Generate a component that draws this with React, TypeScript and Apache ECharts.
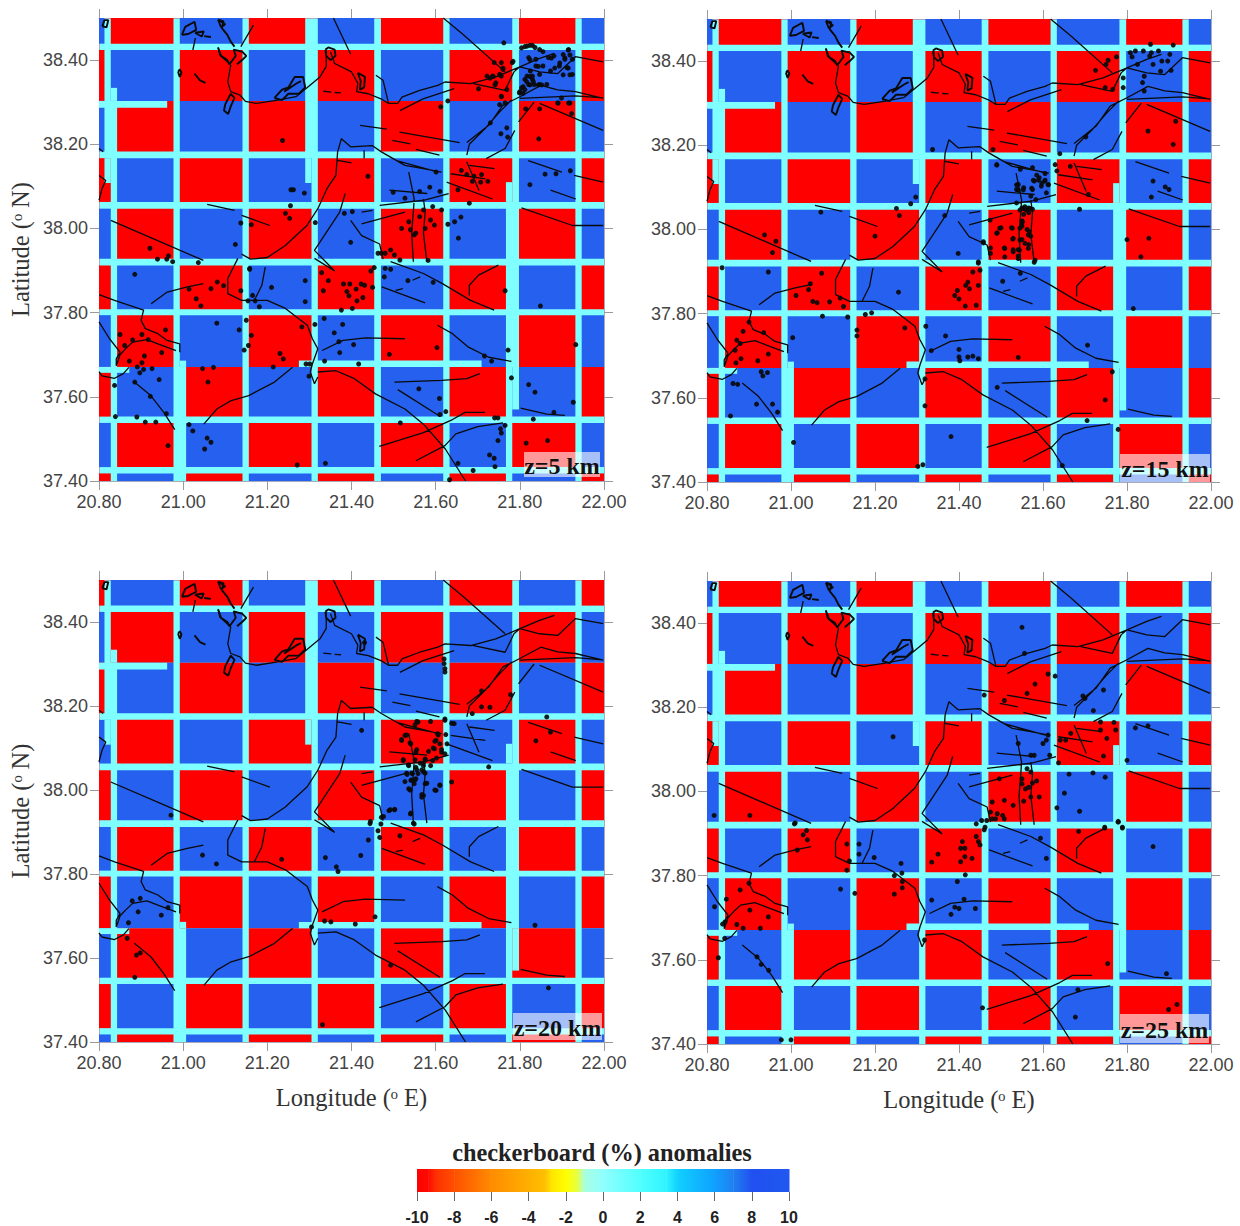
import React, { useEffect, useRef } from "react";
import * as echarts from "echarts";

const RED = "#ff0000";
const BLUE = "#2561ee";
const CYAN = "#7fffff";

const lonTicks = [20.8, 21.0, 21.2, 21.4, 21.6, 21.8, 22.0];
const latTicks = [37.4, 37.6, 37.8, 38.0, 38.2, 38.4];
const panelLabels = ["z=5 km", "z=15 km", "z=20 km", "z=25 km"];
const panelPolarity = [0, 0, 1, 0];

// Row edges [north, south]
const rowEdges = [
  [38.5, 38.439], [38.424, 38.303], [38.303, 38.183], [38.167, 38.063], [38.047, 37.928],
  [37.912, 37.808], [37.794, 37.671], [37.671, 37.553], [37.538, 37.433], [37.418, 37.4],
];
// Column edges [west, east] for each row
const colEdgesByRow = [
  [[20.8, 20.813], [20.828, 20.977], [20.992, 21.141], [21.156, 21.29], [21.32, 21.454], [21.47, 21.618], [21.633, 21.782], [21.798, 21.932], [21.947, 22]],
  [[20.8, 20.813], [20.828, 20.977], [20.992, 21.141], [21.156, 21.29], [21.32, 21.454], [21.47, 21.618], [21.633, 21.782], [21.798, 21.932], [21.947, 22]],
  [[20.8, 20.813], [20.843, 20.977], [20.992, 21.141], [21.156, 21.29], [21.32, 21.454], [21.47, 21.618], [21.633, 21.782], [21.798, 21.932], [21.947, 22]],
  [[20.8, 20.828], [20.843, 20.977], [20.992, 21.141], [21.156, 21.305], [21.32, 21.454], [21.47, 21.618], [21.633, 21.782], [21.798, 21.932], [21.947, 22]],
  [[20.8, 20.828], [20.843, 20.977], [20.992, 21.141], [21.156, 21.305], [21.32, 21.454], [21.47, 21.618], [21.633, 21.767], [21.798, 21.932], [21.947, 22]],
  [[20.8, 20.828], [20.843, 20.977], [20.992, 21.141], [21.156, 21.305], [21.32, 21.454], [21.47, 21.618], [21.633, 21.767], [21.798, 21.932], [21.947, 22]],
  [[20.8, 20.828], [20.843, 20.977], [20.992, 21.141], [21.156, 21.305], [21.32, 21.454], [21.47, 21.618], [21.633, 21.767], [21.798, 21.932], [21.947, 22]],
  [[20.8, 20.828], [20.843, 20.977], [21.007, 21.141], [21.156, 21.305], [21.32, 21.454], [21.47, 21.618], [21.633, 21.767], [21.782, 21.932], [21.947, 22]],
  [[20.8, 20.828], [20.843, 20.977], [21.007, 21.141], [21.156, 21.305], [21.32, 21.454], [21.47, 21.618], [21.633, 21.767], [21.782, 21.932], [21.947, 22]],
  [[20.8, 20.828], [20.843, 20.977], [21.007, 21.141], [21.156, 21.305], [21.32, 21.454], [21.47, 21.618], [21.633, 21.767], [21.782, 21.932], [21.947, 22]],
];
// Zero-anomaly patches [west, east, north, south]
const zeroPatches = [
  [20.828, 20.843, 38.334, 38.303],
  [20.8, 20.962, 38.303, 38.287],
  [21.275, 21.709, 37.686, 37.671],
  [20.992, 21.007, 37.686, 37.671],
  [20.8, 20.872, 37.671, 37.657],
  [21.29, 21.305, 38.167, 38.108],
  [21.767, 21.782, 38.11, 38.063],
  [20.813, 20.828, 38.167, 38.108],
  [21.782, 21.798, 37.671, 37.57],
];

// Coastlines, islands and faults
const coastNorth = [[21.083,38.43],[21.087,38.412],[21.113,38.388],[21.106,38.348],[21.113,38.325],[21.135,38.317],[21.148,38.302],[21.174,38.297],[21.225,38.305],[21.268,38.313],[21.295,38.335],[21.325,38.36],[21.34,38.385],[21.34,38.425]];
const coastNorthEast = [[21.35,38.42],[21.36,38.392],[21.4,38.372],[21.415,38.345],[21.412,38.325],[21.44,38.32],[21.47,38.308],[21.488,38.297],[21.51,38.297],[21.52,38.312],[21.562,38.328],[21.605,38.34],[21.622,38.348],[21.683,38.344],[21.743,38.36],[21.8,38.384],[21.847,38.404],[21.882,38.416]];
const coastMain = [[21.139,37.939],[21.16,37.927],[21.2,37.931],[21.242,37.959],[21.294,38.007],[21.32,38.047],[21.342,38.095],[21.363,38.126],[21.367,38.182],[21.376,38.213],[21.398,38.194],[21.449,38.197],[21.471,38.182],[21.527,38.15],[21.571,38.142],[21.614,38.134]];
const coastWest = [[20.8,37.843],[20.837,37.829],[20.906,37.806],[20.9,37.782],[20.91,37.762],[20.94,37.75],[20.962,37.734],[20.992,37.726],[20.992,37.706]];
const coastBay = [[20.8,37.778],[20.825,37.738],[20.85,37.706],[20.841,37.69],[20.841,37.674],[20.85,37.7],[20.863,37.714],[20.88,37.73],[20.914,37.736],[20.94,37.726],[20.983,37.71]];
const coastCape = [[20.8,37.66],[20.807,37.65],[20.837,37.644],[20.858,37.655],[20.871,37.67]];
const coastCentral = [[21.13,37.929],[21.106,37.881],[21.106,37.845],[21.139,37.829],[21.2,37.829],[21.243,37.81],[21.295,37.77],[21.307,37.738],[21.32,37.714],[21.307,37.678],[21.302,37.659],[21.312,37.631],[21.32,37.647]];
const islandA = [[20.997,38.46],[21.005,38.479],[21.027,38.491],[21.031,38.472],[21.012,38.462],[20.997,38.46]];
const islandB = [[21.028,38.465],[21.049,38.468],[21.044,38.456],[21.028,38.465]];
const islandC = [[21.05,38.457],[21.066,38.455]];
const islandD = [[21.083,38.496],[21.096,38.492],[21.092,38.476],[21.105,38.46],[21.113,38.444],[21.122,38.432]];
const islandE = [[21.083,38.496],[21.09,38.478],[21.1,38.485],[21.083,38.496]];
const islandF = [[20.988,38.372],[20.992,38.378],[20.996,38.37],[20.992,38.36],[20.988,38.372]];
const islandG = [[21.027,38.368],[21.04,38.352],[21.053,38.346]];
const islandH = [[21.083,38.43],[21.09,38.41],[21.105,38.4],[21.11,38.39],[21.125,38.41],[21.12,38.425],[21.14,38.42],[21.15,38.41],[21.14,38.4],[21.128,38.39]];
const islandI = [[21.1,38.295],[21.097,38.28],[21.107,38.272],[21.113,38.29],[21.122,38.31],[21.113,38.32],[21.1,38.295]];
const islandJ = [[21.217,38.31],[21.235,38.33],[21.25,38.335],[21.265,38.36],[21.285,38.36],[21.29,38.335],[21.275,38.32],[21.25,38.32],[21.235,38.305],[21.217,38.31]];
const islandK = [[21.24,38.325],[21.27,38.345],[21.28,38.35]];
const islandL = [[21.338,38.425],[21.345,38.43],[21.36,38.425],[21.362,38.41],[21.35,38.4],[21.34,38.41],[21.338,38.425]];
const islandM = [[21.415,38.37],[21.422,38.35],[21.42,38.33],[21.43,38.335],[21.432,38.36],[21.415,38.37]];
const islandN = [[20.808,38.48],[20.813,38.495],[20.822,38.495],[20.818,38.478],[20.808,38.48]];
const faults = [
  [[21.458,38.364],[21.475,38.352],[21.488,38.297]],
  [[21.515,38.28],[21.57,38.308],[21.644,38.332]],
  [[21.69,38.344],[21.765,38.328],[21.786,38.372],[21.8,38.384]],
  [[21.8,38.384],[21.847,38.372],[21.89,38.368],[21.932,38.408],[21.998,38.396]],
  [[21.674,38.204],[21.726,38.245],[21.76,38.293],[21.8,38.313],[21.85,38.34],[21.89,38.329],[21.932,38.325],[21.998,38.309]],
  [[21.797,38.253],[21.834,38.3]],
  [[21.847,38.297],[21.998,38.233]],
  [[21.8,38.309],[21.932,38.315],[21.998,38.31]],
  [[21.674,38.174],[21.68,38.2],[21.717,38.237],[21.752,38.277],[21.78,38.305]],
  [[21.72,38.166],[21.765,38.19],[21.788,38.233]],
  [[21.618,38.5],[21.666,38.46],[21.765,38.372]],
  [[21.357,38.5],[21.398,38.414]],
  [[21.167,38.483],[21.137,38.432]],
  [[20.828,38.019],[20.949,37.967],[21.048,37.924]],
  [[21.057,38.057],[21.122,38.043]],
  [[21.139,38.031],[21.206,38.007]],
  [[21.43,38.186],[21.43,38.166]],
  [[21.367,38.162],[21.4,38.156]],
  [[21.385,38.083],[21.372,38.039],[21.312,37.948],[21.36,37.899]],
  [[21.398,38.019],[21.424,37.983],[21.467,37.963],[21.475,37.927]],
  [[21.424,38.011],[21.527,38.039]],
  [[21.467,38.055],[21.571,38.067],[21.631,38.083]],
  [[21.49,38.091],[21.58,38.083]],
  [[21.514,38.229],[21.657,38.204]],
  [[21.497,38.209],[21.54,38.201]],
  [[21.553,38.188],[21.609,38.174]],
  [[21.42,38.245],[21.484,38.236]],
  [[21.507,38.161],[21.606,38.134]],
  [[21.636,38.13],[21.718,38.118]],
  [[21.68,38.15],[21.74,38.142]],
  [[21.626,38.11],[21.735,38.07]],
  [[21.674,38.158],[21.703,38.09]],
  [[21.536,38.134],[21.549,38.07],[21.547,38.04],[21.543,37.99],[21.547,37.921]],
  [[21.571,38.07],[21.575,38.04],[21.571,37.989],[21.579,37.921]],
  [[21.424,38.039],[21.45,38.043]],
  [[21.82,38.161],[21.9,38.134]],
  [[21.929,38.126],[21.998,38.11]],
  [[21.873,38.091],[21.933,38.07]],
  [[21.804,38.049],[21.925,38.007],[21.998,38.007]],
  [[20.8,38.19],[20.81,38.182]],
  [[20.8,38.126],[20.816,38.114],[20.807,38.094],[20.8,38.067]],
  [[21.029,38.452],[21.023,38.424]],
  [[21.333,38.326],[21.352,38.324]],
  [[21.36,38.323],[21.375,38.322]],
  [[20.884,37.635],[20.923,37.603],[20.954,37.563],[20.98,37.522]],
  [[21.049,37.535],[21.08,37.571],[21.114,37.591],[21.156,37.603],[21.217,37.635],[21.26,37.67]],
  [[20.924,37.821],[20.962,37.849],[21.01,37.861],[21.048,37.869]],
  [[21.195,37.908],[21.187,37.865],[21.169,37.829]],
  [[21.312,37.929],[21.36,37.899]],
  [[21.32,37.659],[21.363,37.662],[21.407,37.643],[21.457,37.607],[21.527,37.571],[21.571,37.535],[21.623,37.476],[21.671,37.4]],
  [[21.33,37.71],[21.38,37.734],[21.433,37.74],[21.527,37.738]],
  [[21.472,37.861],[21.575,37.823]],
  [[21.493,37.921],[21.571,37.893],[21.616,37.869],[21.683,37.829],[21.739,37.806]],
  [[21.545,37.877],[21.563,37.885]],
  [[21.505,37.853],[21.522,37.857]],
  [[21.749,37.913],[21.702,37.889],[21.68,37.865],[21.68,37.841]],
  [[21.604,37.77],[21.64,37.75],[21.678,37.718],[21.726,37.694],[21.78,37.684]],
  [[21.502,37.635],[21.614,37.639],[21.674,37.643],[21.705,37.655]],
  [[21.51,37.617],[21.61,37.554]],
  [[21.466,37.482],[21.571,37.515],[21.64,37.546],[21.67,37.563],[21.717,37.563]],
  [[21.553,37.448],[21.622,37.484],[21.648,37.512],[21.7,37.529],[21.76,37.538]],
  [[21.802,37.573],[21.864,37.559],[21.907,37.556]],
];
const thinLines = [coastNorth, coastNorthEast, coastMain, coastWest, coastBay, coastCape, coastCentral, ...faults];
const islandLines = [islandA, islandB, islandC, islandD, islandE, islandF, islandG, islandH, islandI, islandJ, islandK, islandL, islandM, islandN];

// Earthquake foci per depth slice
const eventsZ5 = [
[20.921,37.953],[20.939,37.927],[20.961,37.927],[20.965,37.935],[20.975,37.921],[21.036,37.919],[21.124,37.962],[21.137,38.013],[21.162,38.009],[21.158,37.905],[21.243,38.036],[21.255,38.054],[21.253,38.024],[21.256,38.092],[21.262,38.092],[21.288,38.084],[21.236,38.209],[21.314,38.014],[21.383,38.036],[21.402,38.04],[21.398,37.967],[21.439,38.124],[21.463,37.941],[21.471,37.941],[21.48,37.941],[21.493,37.949],[21.502,37.937],[21.515,37.925],[21.582,37.924],[21.519,38],[21.536,38.016],[21.54,37.997],[21.549,37.985],[21.562,38.028],[21.575,38],[21.588,38.02],[21.597,38.008],[21.571,38.044],[21.593,38.052],[21.614,38.044],[21.553,37.989],[21.629,38.01],[21.645,38.016],[21.66,38.027],[21.654,37.977],[21.68,38.06],[21.499,38.086],[21.527,38.072],[21.562,38.088],[21.586,38.098],[21.61,38.088],[21.601,38.134],[21.653,38.092],[21.661,38.138],[21.674,38.128],[21.691,38.124],[21.709,38.128],[21.707,38.11],[21.724,38.112],[21.687,38.112],[21.824,38.104],[21.86,38.129],[21.886,38.13],[21.92,38.137],[21.845,38.213],[21.847,38.284],[21.814,38.284],[21.755,38.225],[21.769,38.239],[21.771,38.217],[21.73,38.251],[21.923,38.273],[21.612,38.289],[21.629,38.303],[21.762,38.441],[21.702,38.332],
[21.804,38.429],[21.817,38.433],[21.83,38.435],[21.847,38.425],[21.868,38.406],[21.821,38.406],[21.838,38.402],[21.881,38.41],[21.903,38.413],[21.916,38.425],[21.925,38.402],[21.912,38.382],[21.925,38.366],[21.907,38.402],[21.894,38.386],[21.873,38.374],[21.855,38.386],[21.838,38.386],[21.825,38.374],[21.847,38.366],[21.812,38.354],[21.83,38.354],[21.821,38.342],[21.804,38.334],[21.812,38.33],[21.834,38.342],[21.847,38.342],[21.864,38.342],[21.799,38.322],[21.83,38.362],[21.817,38.362],[21.899,38.31],[21.89,38.298],[21.916,38.298],[21.739,38.394],[21.756,38.394],[21.782,38.394],[21.76,38.378],[21.752,38.366],[21.735,38.362],[21.743,38.346],[21.756,38.362],[21.756,38.314],[21.765,38.298],[21.752,38.294],[21.722,38.362],[21.769,38.33],
[21.812,38.432],[21.824,38.435],[21.836,38.43],[21.855,38.42],[21.915,38.424],[21.919,38.412],[21.907,38.405],[21.895,38.393],[21.883,38.381],[21.875,38.405],[21.824,38.401],[21.844,38.385],[21.824,38.361],[21.816,38.349],[21.808,38.337],[21.824,38.341],[21.832,38.349],[21.844,38.341],[21.852,38.341],[21.8,38.325],[21.808,38.321],[21.915,38.381],[21.919,38.365],[21.903,38.365],[21.784,38.397],[21.76,38.381],[21.753,38.365],[21.737,38.361],[21.729,38.357],[21.741,38.341],[21.756,38.313],[21.891,38.298],[21.919,38.298],
[20.885,37.891],[21.014,37.856],[21.031,37.833],[21.042,37.816],[21.066,37.857],[21.081,37.873],[21.096,37.864],[21.137,37.852],[21.158,37.903],[21.165,37.841],[21.154,37.828],[21.171,37.828],[21.181,37.814],[21.21,37.86],[21.29,37.876],[21.29,37.826],[21.329,37.895],[21.345,37.876],[21.333,37.852],[21.381,37.868],[21.396,37.868],[21.389,37.85],[21.411,37.856],[21.394,37.84],[21.423,37.868],[21.431,37.865],[21.427,37.836],[21.413,37.828],[21.45,37.86],[21.446,37.899],[21.454,37.907],[21.376,37.806],[21.402,37.81],[21.48,37.905],[21.493,37.903],[21.478,37.885],[21.534,37.876],[21.594,37.872],[21.765,37.852],[21.849,37.816],
[20.85,37.748],[20.861,37.722],[20.88,37.735],[20.902,37.748],[20.917,37.736],[20.958,37.759],[20.908,37.697],[20.872,37.685],[20.949,37.705],[21.08,37.775],[21.133,37.759],[21.15,37.782],[21.162,37.746],[21.155,37.722],[21.145,37.711],[21.23,37.703],[21.238,37.69],[21.282,37.766],[21.313,37.772],[21.335,37.786],[21.359,37.752],[21.379,37.772],[21.37,37.731],[21.405,37.724],[21.372,37.705],[21.336,37.685],[21.417,37.678],[21.49,37.701],[21.603,37.717],[21.716,37.697],[21.733,37.685],[21.772,37.711],[21.933,37.724],
[21.046,37.667],[21.072,37.67],[21.059,37.635],[21.214,37.671],[21.292,37.678],[21.301,37.678],[21.299,37.649],[20.891,37.671],[20.902,37.681],[20.897,37.657],[20.906,37.665],[20.926,37.667],[20.943,37.641],[20.885,37.635],[20.837,37.627],[20.922,37.601],[20.96,37.56],[20.839,37.553],[20.89,37.552],[20.91,37.54],[20.935,37.54],[21.56,37.619],[21.609,37.596],[21.61,37.558],[21.624,37.565],[21.78,37.645],[21.821,37.629],[21.836,37.611],[21.881,37.563],[21.927,37.587],[21.748,37.55],[21.74,37.55],
[21.014,37.534],[21.023,37.519],[21.057,37.502],[21.066,37.492],[21.051,37.476],[20.964,37.484],[21.271,37.438],[21.338,37.442],[21.516,37.538],[21.653,37.442],[21.689,37.425],[21.633,37.403],[21.748,37.496],[21.756,37.514],[21.754,37.524],[21.765,37.532],[21.728,37.462],[21.739,37.454],[21.741,37.434],[21.815,37.49],[21.866,37.496],[21.832,37.547],
];
const eventsZ15 = [
[21.856,38.44],[21.91,38.438],[21.808,38.42],[21.82,38.424],[21.839,38.424],[21.858,38.42],[21.875,38.424],[21.902,38.416],[21.812,38.41],[21.854,38.412],[21.883,38.4],[21.897,38.4],[21.825,38.392],[21.862,38.392],[21.88,38.376],[21.905,38.378],[21.841,38.364],[21.837,38.349],[21.841,38.329],[21.791,38.36],[21.791,38.337],[21.725,38.378],[21.75,38.392],[21.755,38.402],[21.775,38.41],[21.748,38.337],[21.766,38.333],[21.916,38.257],[21.85,38.234],[21.91,38.202],[21.702,38.22],[21.337,38.19],[21.481,38.19],[21.64,38.18],[21.49,38.154],[21.629,38.154],[21.665,38.15],[21.633,38.139],
[21.546,38.143],[21.575,38.147],[21.591,38.123],[21.579,38.115],[21.604,38.115],[21.541,38.107],[21.537,38.095],[21.554,38.099],[21.575,38.095],[21.596,38.103],[21.612,38.107],[21.571,38.079],[21.537,38.063],[21.583,38.071],[21.608,38.087],[21.708,38.083],[21.55,38.051],[21.558,38.048],[21.566,38.051],[21.575,38.048],[21.554,38.036],[21.55,38.02],[21.566,38.04],[21.862,38.115],[21.891,38.101],[21.9,38.095],[21.858,38.077],[21.687,38.048],[21.297,38.077],[21.285,38.061],[21.251,38.05],[21.258,38.033],[21.071,38.041],[21.366,38.033],[21.2,37.984],[20.937,37.987],[20.964,37.972],[20.956,37.945],
[21.5,38.004],[21.491,37.992],[21.525,38.004],[21.55,38.008],[21.562,38],[21.529,37.979],[21.571,37.984],[21.55,37.976],[21.566,37.964],[21.508,37.956],[21.529,37.952],[21.541,37.952],[21.475,37.956],[21.458,37.968],[21.398,37.943],[21.8,37.976],[21.852,37.979],[21.833,37.935],[21.541,37.937],
[21.553,38.05],[21.561,38.046],[21.569,38.05],[21.545,38.046],[21.557,38.054],[21.551,38.018],[21.549,38.011],[21.545,38.003],[21.567,37.995],[21.565,37.987],[21.497,38.003],[21.49,37.991],[21.527,38.003],[21.528,37.977],[21.545,37.975],[21.509,37.955],[21.529,37.947],[21.544,37.951],[21.475,37.943],[21.509,37.935],[21.565,37.955],[21.557,37.967],[21.541,37.931],[21.581,37.927],[21.474,38.022],[21.458,37.971],[21.446,37.923],[21.537,38.106],[21.541,38.094],[21.553,38.094],[21.577,38.117],[21.589,38.117],[21.605,38.117],[21.613,38.106],[21.597,38.11],[21.585,38.129],[21.605,38.133],[21.49,38.153],[21.573,38.098],
[20.836,37.909],[20.946,37.899],[21.073,37.896],[21.046,37.871],[21.042,37.857],[21.012,37.843],[21.052,37.829],[21.062,37.826],[21.092,37.828],[21.125,37.817],[21.117,37.837],[21.256,37.851],[21.075,37.794],[21.135,37.792],[21.177,37.798],[21.192,37.802],[21.446,37.92],[21.433,37.899],[21.45,37.903],[21.421,37.875],[21.416,37.867],[21.425,37.859],[21.396,37.855],[21.39,37.843],[21.4,37.835],[21.446,37.867],[21.441,37.82],[21.415,37.818],[21.546,37.896],[21.504,37.877],[21.815,37.812],[21.579,37.922],
[20.9,37.78],[20.886,37.758],[20.935,37.755],[20.871,37.737],[20.879,37.729],[20.867,37.713],[20.881,37.693],[20.921,37.688],[20.946,37.704],[20.869,37.683],[21.004,37.743],[21.157,37.761],[21.157,37.747],[21.271,37.766],[21.321,37.77],[21.368,37.747],[21.334,37.712],[21.4,37.715],[21.4,37.697],[21.402,37.688],[21.421,37.697],[21.433,37.699],[21.446,37.693],[21.541,37.696],[21.706,37.725],
[20.929,37.662],[20.933,37.652],[20.944,37.66],[20.862,37.634],[20.873,37.632],[20.918,37.585],[20.956,37.585],[20.968,37.566],[20.856,37.557],[21.491,37.625],[21.319,37.645],[21.319,37.581],[21.765,37.662],[21.748,37.595],[21.705,37.546],[21.779,37.525],[21.006,37.494],[21.381,37.508],[21.302,37.437],[21.314,37.441],[21.646,37.439],
];
const eventsZ20 = [
[21.62,38.312],[21.62,38.301],[21.622,38.289],[21.622,38.281],[21.431,38.351],[21.709,38.236],[21.778,38.227],[21.709,38.198],[21.729,38.197],[21.687,38.182],[21.864,38.174],[21.873,38.138],[21.838,38.117],[21.424,38.142],[21.726,38.055],[21.638,38.019],[20.971,37.94],
[21.558,38.162],[21.588,38.163],[21.622,38.166],[21.644,38.158],[21.624,38.132],[21.527,38.13],[21.519,38.118],[21.541,38.11],[21.605,38.134],[21.601,38.118],[21.61,38.11],[21.627,38.11],[21.597,38.098],[21.614,38.09],[21.553,38.09],[21.622,38.086],[21.575,38.074],[21.593,38.07],[21.523,38.07],[21.536,38.058],[21.553,38.054],[21.571,38.058],[21.588,38.058],[21.532,38.037],[21.545,38.039],[21.558,38.039],[21.571,38.043],[21.541,38.023],[21.553,38.027],[21.549,38.015],[21.575,38.015],[21.536,38.003],[21.61,38.011],[21.601,37.999],[21.571,37.987],[21.567,37.983],[21.489,37.951],[21.502,37.953],[21.54,37.943],[21.549,37.919],[21.444,37.92],[21.471,37.935],
[21.551,38.155],[21.555,38.163],[21.622,38.169],[21.638,38.159],[21.531,38.131],[21.519,38.12],[21.539,38.112],[21.606,38.131],[21.598,38.116],[21.594,38.1],[21.583,38.092],[21.614,38.096],[21.555,38.096],[21.523,38.072],[21.602,38.076],[21.575,38.072],[21.535,38.06],[21.551,38.072],[21.563,38.064],[21.531,38.04],[21.543,38.04],[21.555,38.048],[21.575,38.04],[21.567,38.048],[21.551,38.024],[21.527,38.02],[21.543,38.024],[21.539,38],[21.579,38.016],[21.598,38],[21.61,38.012],[21.567,37.989],[21.492,37.953],[21.503,37.954],[21.541,37.945],[21.547,37.921],[21.476,37.937],[21.571,38.064],
[21.046,37.845],[21.079,37.824],[21.234,37.835],[21.338,37.839],[21.44,37.881],[21.422,37.844],[21.364,37.817],[21.368,37.806],[21.463,37.903],[21.467,37.887],[21.445,37.925],[21.515,37.891],[21.47,37.919],
[20.879,37.736],[20.898,37.742],[20.893,37.71],[20.964,37.72],[20.948,37.702],[20.87,37.684],[20.867,37.647],[20.889,37.607],[20.898,37.612],[20.885,37.554],[21.336,37.688],[21.351,37.686],[21.409,37.681],[21.456,37.698],[21.305,37.674],[21.836,37.678],[21.493,37.583],[21.868,37.529],[21.331,37.441],
];
const eventsZ25 = [
[21.55,38.39],[21.556,38.328],[21.612,38.279],[21.629,38.274],[21.581,38.255],[21.562,38.233],[21.508,38.216],[21.46,38.229],[21.695,38.227],[21.7,38.221],[21.744,38.241],[21.72,38.192],[21.737,38.165],[21.769,38.164],[21.773,38.146],[21.752,38.126],[21.737,38.146],[21.666,38.138],[21.641,38.122],[21.654,38.122],[21.612,38.134],[21.6,38.114],[21.608,38.122],[21.541,38.114],[21.616,38.086],[21.571,38.086],[21.579,38.086],[21.744,38.084],[21.637,38.068],[21.8,38.074],[21.82,38.151],[21.85,38.156],[21.243,38.13],
[21.562,38.054],[21.571,38.046],[21.662,38.041],[21.719,38.044],[21.748,38.034],[21.585,38.025],[21.55,38.03],[21.558,38.006],[21.566,38.01],[21.55,38.018],[21.575,38.02],[21.591,37.987],[21.571,37.987],[21.554,37.977],[21.496,38.03],[21.508,37.979],[21.529,37.967],[21.479,37.975],[21.651,37.996],[21.633,37.961],[21.687,37.953],[21.779,37.927],[21.789,37.913],[21.747,37.913],
[21.504,37.943],[21.491,37.947],[21.479,37.935],[21.466,37.931],[21.454,37.931],[21.441,37.923],[21.487,37.935],[21.508,37.935],[21.475,37.951],[21.462,37.915],[20.817,37.943],[20.902,37.943],[21.008,37.923],
[21.01,37.925],[21.037,37.907],[21.029,37.897],[21.039,37.885],[21.015,37.861],[21.133,37.875],[21.162,37.875],[21.162,37.851],[21.198,37.843],[21.139,37.835],[21.133,37.813],[21.262,37.829],[21.264,37.806],[21.246,37.8],[21.265,37.786],[21.265,37.771],[21.246,37.756],[21.118,37.768],[21.152,37.758],
[21.408,37.881],[21.414,37.865],[21.404,37.865],[21.441,37.893],[21.446,37.881],[21.45,37.873],[21.35,37.851],[21.335,37.832],[21.404,37.833],[21.414,37.845],[21.431,37.841],[21.415,37.802],[21.396,37.786],[21.412,37.744],[21.335,37.742],[21.39,37.725],[21.4,37.722],[21.439,37.722],[21.381,37.708],[21.685,37.905],[21.747,37.915],[21.779,37.929],[21.789,37.915],[21.594,37.889],[21.608,37.841],[21.862,37.869],[21.46,37.909],
[20.9,37.782],[20.879,37.766],[20.846,37.744],[20.818,37.726],[20.902,37.718],[20.946,37.702],[20.843,37.69],[20.837,37.685],[20.871,37.684],[20.886,37.675],[20.927,37.675],[20.842,37.651],[20.827,37.605],[20.919,37.607],[20.929,37.589],[20.947,37.575],[21.318,37.647],[21.754,37.591],[21.894,37.567],[21.683,37.529],[21.456,37.486],[21.677,37.464],[21.899,37.482],[21.919,37.494],[20.977,37.41],[21,37.41],
];
const panelEvents = [eventsZ5, eventsZ15, eventsZ20, eventsZ25];

const colorStops: [number, string][] = [
  [-10, "#ff0000"], [-9.4, "#ff0a00"], [-9, "#ff3000"], [-8, "#ff5000"], [-6, "#ff8c00"], [-4, "#ffb000"], [-3.1, "#ffc000"], [-2.8, "#ffe400"], [-2, "#ffff00"], [-1.4, "#e8ff40"], [-1, "#a8ffe0"], [0, "#90ffff"], [2, "#50ffff"], [3.4, "#30f4ff"], [4, "#10d0ff"], [6, "#10a0ff"], [7, "#2080f0"], [8, "#2050f0"], [10, "#2058f0"],
];

const panelBoxes = [
  { left: 99, top: 18, width: 505, height: 463 },
  { left: 707, top: 19, width: 504, height: 463 },
  { left: 99, top: 580, width: 505, height: 462 },
  { left: 707, top: 581, width: 504, height: 463 },
];
const labelBoxes = [
  { x: 524, y: 452, w: 76, h: 25 },
  { x: 1120, y: 454, w: 90, h: 28 },
  { x: 513, y: 1013, w: 89, h: 27 },
  { x: 1120, y: 1014, w: 89, h: 29 },
];

function flatten(lines: number[][][]) {
  const out: any[] = [];
  lines.forEach((l) => {
    l.forEach((p) => out.push(p));
    out.push(["-", "-"]);
  });
  return out;
}

function cellsFor(polarity: number) {
  const out: any[] = [];
  rowEdges.forEach((row, r) => {
    colEdgesByRow[r].forEach((col, c) => {
      const isRed = (r + c + polarity) % 2 === 1;
      out.push({ value: [col[0], col[1], row[0], row[1]], itemStyle: { color: isRed ? RED : BLUE } });
    });
  });
  return out;
}

function rectItem(params: any, api: any) {
  const p0 = api.coord([api.value(0), api.value(2)]);
  const p1 = api.coord([api.value(1), api.value(3)]);
  return {
    type: "rect",
    shape: { x: p0[0], y: p0[1], width: p1[0] - p0[0], height: p1[1] - p0[1] },
    style: { fill: api.visual("color") },
  };
}

const TICK = { lineStyle: { color: "#9a9a9a", width: 1 }, length: 9 };
const LINE = { lineStyle: { color: "#a6acbc", width: 1 } };

export default function App() {
  const ref = useRef<HTMLDivElement>(null);
  useEffect(() => {
    const chart = echarts.init(ref.current!, undefined, { renderer: "svg" });
    const grid: any[] = [];
    const xAxis: any[] = [];
    const yAxis: any[] = [];
    const series: any[] = [];
    const graphic: any[] = [];

    panelBoxes.forEach((box, i) => {
      grid.push({ ...box, show: true, backgroundColor: CYAN, borderWidth: 0 });
      const common = { type: "value", gridIndex: i, splitLine: { show: false }, axisLine: { show: true, onZero: false, ...LINE } };
      xAxis.push({
        ...common, min: 20.8, max: 22, position: "bottom",
        name: i >= 2 ? "Longitude (ᵒ E)" : "", nameLocation: "middle", nameGap: 43,
        nameTextStyle: { fontFamily: "Liberation Serif", fontSize: 24.5, color: "#333" },
        axisTick: { ...TICK, customValues: lonTicks },
        axisLabel: { customValues: lonTicks, margin: 12, fontFamily: "Liberation Sans", fontSize: 18, color: "#444", formatter: (v: number) => v.toFixed(2), hideOverlap: false },
      });
      xAxis.push({
        ...common, min: 20.8, max: 22, position: "top",
        axisTick: { ...TICK, customValues: lonTicks }, axisLabel: { show: false },
      });
      yAxis.push({
        ...common, min: 37.4, max: 38.5, position: "left",
        name: i % 2 === 0 ? "Latitude (ᵒ N)" : "", nameLocation: "middle", nameGap: 66, nameRotate: 90,
        nameTextStyle: { fontFamily: "Liberation Serif", fontSize: 24.5, color: "#333" },
        axisTick: { ...TICK, customValues: latTicks },
        axisLabel: { customValues: latTicks, margin: 11, fontFamily: "Liberation Sans", fontSize: 18, color: "#444", formatter: (v: number) => v.toFixed(2) },
      });
      yAxis.push({
        ...common, min: 37.4, max: 38.5, position: "right",
        axisTick: { ...TICK, customValues: latTicks }, axisLabel: { show: false },
      });
      const xi = i * 2;
      const yi = i * 2;
      series.push({
        type: "custom", xAxisIndex: xi, yAxisIndex: yi, renderItem: rectItem, silent: true,
        encode: { x: [0, 1], y: [2, 3] }, data: cellsFor(panelPolarity[i]), z: 2,
      });
      series.push({
        type: "custom", xAxisIndex: xi, yAxisIndex: yi, renderItem: rectItem, silent: true,
        encode: { x: [0, 1], y: [2, 3] }, itemStyle: { color: CYAN }, data: zeroPatches, z: 3,
      });
      series.push({
        type: "line", xAxisIndex: xi, yAxisIndex: yi, showSymbol: false, symbol: "none", silent: true,
        lineStyle: { color: "#0a0a0a", width: 1.3 }, data: flatten(thinLines), z: 4, connectNulls: false,
      });
      series.push({
        type: "line", xAxisIndex: xi, yAxisIndex: yi, showSymbol: false, symbol: "none", silent: true,
        lineStyle: { color: "#0a0a0a", width: 1.9 }, data: flatten(islandLines), z: 4, connectNulls: false,
      });
      series.push({
        type: "scatter", xAxisIndex: xi, yAxisIndex: yi, symbolSize: 5, silent: true,
        itemStyle: { color: "#0a0a0a", opacity: 0.92 }, data: panelEvents[i], z: 5,
      });
      const lb = labelBoxes[i];
      graphic.push({ type: "rect", z: 20, shape: { x: lb.x, y: lb.y, width: lb.w, height: lb.h }, style: { fill: "rgba(255,255,255,0.6)" } });
      graphic.push({
        type: "text", z: 21, x: lb.x + lb.w / 2, y: lb.y + lb.h / 2 + 1,
        style: { text: panelLabels[i], fontFamily: "Liberation Serif", fontWeight: "bold", fontSize: 24, fill: "#111", align: "center", verticalAlign: "middle" },
      });
    });

    // Colour scale
    grid.push({ left: 417, top: 1169, width: 372, height: 23, show: false });
    xAxis.push({
      type: "value", gridIndex: 4, min: -10, max: 10, interval: 2, position: "bottom", splitLine: { show: false },
      axisLine: { show: false, onZero: false },
      axisTick: { show: true, length: 9, lineStyle: { color: "#666" } },
      axisLabel: { margin: 17, fontFamily: "Liberation Sans", fontWeight: "bold", fontSize: 16, color: "#222", formatter: (v: number) => String(v), hideOverlap: false },
    });
    yAxis.push({ type: "value", gridIndex: 4, min: 0, max: 1, show: false });
    const barData = colorStops.slice(0, -1).map((s, k) => [s[0], colorStops[k + 1][0], s[1], colorStops[k + 1][1]]);
    series.push({
      type: "custom", xAxisIndex: 8, yAxisIndex: 8, silent: true, encode: { x: [0, 1] }, z: 2,
      dimensions: ["a", "b", "c", "d"],
      data: barData,
      renderItem: (params: any, api: any) => {
        const row = barData[params.dataIndex];
        const p0 = api.coord([row[0], 1]);
        const p1 = api.coord([row[1], 0]);
        return {
          type: "rect",
          shape: { x: p0[0], y: p0[1], width: p1[0] - p0[0] + 0.5, height: p1[1] - p0[1] },
          style: { fill: new echarts.graphic.LinearGradient(0, 0, 1, 0, [{ offset: 0, color: row[2] as string }, { offset: 1, color: row[3] as string }]) },
        };
      },
    });

    chart.setOption({
      animation: false,
      backgroundColor: "#ffffff",
      title: {
        text: "checkerboard (%) anomalies", left: 597, top: 1135, textAlign: "center",
        textStyle: { fontFamily: "Liberation Serif", fontWeight: "bold", fontSize: 24.3, color: "#222" },
      },
      grid, xAxis, yAxis, series, graphic,
    });
    return () => chart.dispose();
  }, []);
  return <div ref={ref} style={{ position: "absolute", left: 0, top: 0, width: 1240, height: 1226 }} />;
}
